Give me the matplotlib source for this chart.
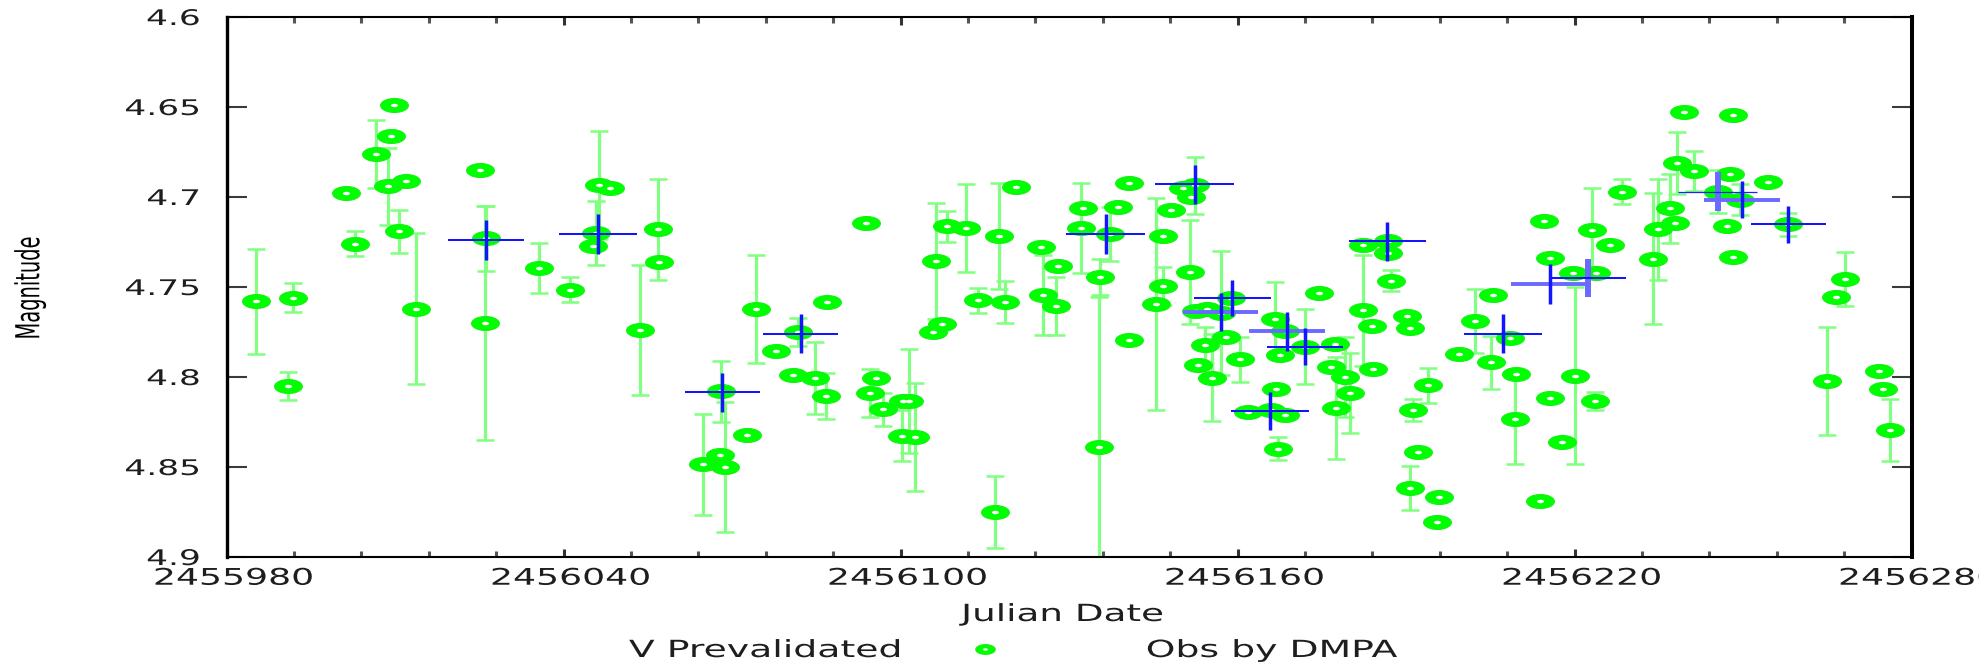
import numpy as np
import matplotlib
matplotlib.use("Agg")
import matplotlib.pyplot as plt
from matplotlib.path import Path
from matplotlib.transforms import Affine2D
from matplotlib.patheffects import AbstractPathEffect
from matplotlib.lines import Line2D
from matplotlib.ticker import MultipleLocator

# ---------------- data ----------------
JD0 = 2455980

# V prevalidated observations (JD offset from JD0, magnitude, error)
obs_day = [5.2, 10.9, 11.8, 21.3, 22.8, 26.7, 28.7, 29.3, 29.8, 30.8, 32.0, 33.8,
           45.1, 46.2, 46.1,
           55.7, 61.1, 65.2, 65.8, 66.4, 68.2, 73.7, 76.8, 77.0, 84.8, 87.8, 88.0,
           88.7, 92.6, 94.3, 97.8, 100.9,
           101.7, 104.7, 106.8, 107.0, 113.8, 114.6, 115.7, 116.9, 120.2, 120.4,
           121.6, 122.5, 125.8, 126.4, 127.3, 128.2, 131.7, 133.8, 136.8, 137.5,
           138.6, 140.6, 145.0, 145.4, 147.6, 148.1,
           152.2, 152.5, 155.4, 155.6, 157.3, 158.7, 160.6, 160.7, 165.5, 166.8,
           166.8, 168.2, 170.3, 171.6, 171.8, 172.4, 172.7, 172.9, 174.2, 174.5,
           175.5, 177.1, 178.0, 178.9, 180.4, 181.9, 186.0, 186.6, 186.9, 187.2,
           187.5, 188.4, 188.4, 192.0, 194.5, 196.6, 197.3, 197.6, 199.1, 200.0,
           202.4, 202.4, 203.9, 204.2, 206.8, 206.8, 207.4, 210.1, 210.7, 210.7,
           211.2, 212.2, 213.9, 215.6, 215.8, 219.5, 222.2, 225.2, 225.5, 228.5,
           229.4, 229.6, 233.8, 234.5, 235.7, 235.7, 237.7, 239.8, 240.1, 243.2,
           243.7, 243.9, 246.3, 248.4,
           254.0, 254.9, 257.0, 257.9, 258.2, 259.5, 261.2, 265.6, 267.1, 267.7,
           268.2, 268.3, 269.4, 274.5, 278.1, 285.0, 286.6, 288.2, 294.3, 295.0,
           296.1]
obs_mag = [4.758, 4.805, 4.756, 4.698, 4.726, 4.676, 4.694, 4.666, 4.649, 4.719, 4.691, 4.762,
           4.685, 4.723, 4.770,
           4.7395, 4.7515, 4.727, 4.720, 4.6936, 4.695, 4.774, 4.718, 4.736, 4.8486, 4.8433, 4.808,
           4.850, 4.832, 4.762, 4.7855, 4.799,
           4.775, 4.8007, 4.8105, 4.7583, 4.7143, 4.809, 4.8003, 4.818, 4.8326, 4.8134,
           4.8134, 4.8333, 4.775, 4.7356, 4.7704, 4.7163, 4.717, 4.7573, 4.875, 4.7216,
           4.7583, 4.6942, 4.728, 4.7544, 4.7606, 4.7386,
           4.717, 4.706, 4.8388, 4.7444, 4.7208, 4.7053, 4.7796, 4.6922, 4.7593, 4.7216,
           4.7493, 4.7073, 4.6952, 4.7415, 4.700, 4.6936, 4.7636, 4.7933, 4.7821, 4.762,
           4.8003, 4.7645, 4.7778, 4.7563, 4.790, 4.8193, 4.8183, 4.7675, 4.8066, 4.8398,
           4.7876, 4.7743, 4.8212, 4.7831, 4.7534, 4.7944, 4.7817, 4.8173, 4.800, 4.8089,
           4.7264, 4.763, 4.7718, 4.7958, 4.7245, 4.731, 4.7464, 4.766, 4.773, 4.8617,
           4.8183, 4.8417, 4.8046, 4.8804, 4.8666, 4.7874, 4.769, 4.7919, 4.7544, 4.7786,
           4.8232, 4.7984, 4.869, 4.7132, 4.7339, 4.8115, 4.8363, 4.742, 4.7993, 4.7182,
           4.8134, 4.742, 4.7264, 4.6971,
           4.7343, 4.718, 4.7063, 4.7147, 4.6811, 4.6526, 4.6854, 4.6971, 4.716, 4.6874,
           4.7333, 4.6545, 4.7014, 4.6917, 4.7151, 4.8023, 4.7557, 4.7456, 4.7964, 4.8066,
           4.8294]
obs_err = [0.029, 0.008, 0.008, 0.0, 0.007, 0.019, 0.0215, 0.0, 0.0, 0.012, 0.0, 0.042,
           0.0, 0.018, 0.065,
           0.014, 0.007, 0.0, 0.018, 0.030, 0.0, 0.036, 0.028, 0.0, 0.028, 0.0, 0.017,
           0.036, 0.0, 0.030, 0.0, 0.0,
           0.0076, 0.020, 0.013, 0.0, 0.0, 0.0135, 0.0, 0.0093, 0.014, 0.0,
           0.029, 0.030, 0.0, 0.032, 0.0, 0.0088, 0.0245, 0.007, 0.020, 0.0295,
           0.0115, 0.0, 0.0, 0.022, 0.016, 0.0,
           0.025, 0.0, 0.083, 0.010, 0.015, 0.0, 0.0, 0.0, 0.059, 0.0,
           0.0105, 0.0, 0.0, 0.029, 0.0, 0.016, 0.0, 0.0, 0.010, 0.0,
           0.024, 0.0345, 0.0, 0.0, 0.0125, 0.0, 0.0, 0.0205, 0.0, 0.0065,
           0.0, 0.0, 0.0, 0.021, 0.0, 0.0, 0.0, 0.0285, 0.022, 0.022,
           0.0, 0.031, 0.0, 0.0, 0.0, 0.0, 0.0056, 0.0, 0.0, 0.0122,
           0.0063, 0.0, 0.0098, 0.0, 0.0, 0.0, 0.0178, 0.0147, 0.0, 0.0,
           0.025, 0.0, 0.0, 0.0, 0.0, 0.0, 0.0, 0.0, 0.0493, 0.023,
           0.0051, 0.0, 0.0, 0.007,
           0.0364, 0.028, 0.019, 0.0, 0.017, 0.0, 0.011, 0.012, 0.0, 0.0,
           0.0, 0.0, 0.0088, 0.0, 0.0064, 0.030, 0.0, 0.015, 0.0, 0.0,
           0.017]

# binned means (blue crosses)
bin_day = [46.2, 66.1, 88.3, 102.2, 156.5, 172.4, 177.0, 179.1, 185.8, 188.8,
           192.0, 206.7, 227.3, 235.6, 242.4, 265.5, 269.8, 278.1]
bin_mag = [4.724, 4.7204, 4.8085, 4.7759, 4.7204, 4.693, 4.764, 4.7563, 4.8187, 4.7747,
           4.7831, 4.7247, 4.7759, 4.7483, 4.745, 4.697, 4.7014, 4.7151]
bin_day_err = [6.8, 6.9, 6.75, 6.7, 7.0, 7.0, 6.7, 6.9, 7.0, 6.7,
               6.7, 6.8, 7.0, 6.85, 6.7, 7.0, 6.8, 6.7]
bin_mag_err = [0.011, 0.011, 0.011, 0.011, 0.011, 0.0107, 0.0106, 0.010, 0.0105, 0.0107,
               0.0105, 0.011, 0.011, 0.0112, 0.0106, 0.011, 0.0103, 0.0103]

x_ticks = [2455980, 2456040, 2456100, 2456160, 2456220, 2456280]
x_tick_labels = ["2455980", "2456040", "2456100", "2456160", "2456220", "2456280"]
y_ticks = [4.6, 4.65, 4.7, 4.75, 4.8, 4.85, 4.9]
y_tick_labels = ["4.6", "4.65", "4.7", "4.75", "4.8", "4.85", "4.9"]

# rendering style of each cross (d = dark, l = light/thick, t = thin)
cross_h_style = ["d", "d", "d", "d", "d", "d", "l", "d", "d", "l",
                 "d", "d", "d", "l", "d", "t", "l", "d"]
cross_v_style = ["d", "d", "d", "d", "d", "d", "d", "d", "d", "d",
                 "d", "d", "d", "d", "l", "l", "d", "d"]


# ---------------- helpers ----------------
class HStretch(AbstractPathEffect):
    """Stretch rendered text horizontally (the reference image is widened)."""
    def __init__(self, k=1.58, anchor=0.5, dx=0.0):
        super().__init__((0, 0))
        self.k, self.anchor, self.dx = k, anchor, dx

    def draw_path(self, renderer, gc, tpath, affine, rgbFace=None):
        if len(tpath.vertices) == 0:
            return
        ext = tpath.get_extents(affine)
        ax_ = ext.x0 + self.anchor * (ext.x1 - ext.x0)
        aff = affine + Affine2D().translate(-ax_, 0).scale(self.k, 1).translate(ax_ + self.dx, 0)
        renderer.draw_path(gc, tpath, aff, rgbFace)


t = np.linspace(0, 2 * np.pi, 61)
ELL = Path(np.column_stack([np.cos(t), 0.5 * np.sin(t)]), closed=True)

TXT = "#1e1e1e"
W, H = 1979, 666
fig = plt.figure(figsize=(W / 100, H / 100), dpi=100)
ax = fig.add_axes([226.5 / W, (H - 557) / H, 1685 / W, 540 / H])

od = JD0 + np.array(obs_day)
om = np.array(obs_mag)
oe = np.array(obs_err)
m = oe > 0
ax.errorbar(od[m], om[m], yerr=oe[m], fmt="none", ecolor="#80ff80",
            elinewidth=2.3, capsize=6.2, capthick=1.8, zorder=2)
ax.plot(od, om, ls="none", marker=ELL, ms=20, mfc="#00ff00", mec="#14f014",
        mew=0.8, zorder=3)
ax.plot(od, om, ls="none", marker=ELL, ms=5.0, mfc="white", mec="none", zorder=4)

bd = JD0 + np.array(bin_day)
bm = np.array(bin_mag)
bde = np.array(bin_day_err)
bme = np.array(bin_mag_err)
hcol = {"d": "#1414ff", "l": "#6a6aff", "t": "#2020ff"}
hw = {"d": 1.45, "l": 2.8, "t": 0.9}
vw = {"d": 2.5, "l": 4.3, "t": 1.0}
for order in ("l", "t", "d"):
    hi = [i for i, s in enumerate(cross_h_style) if s == order]
    vi = [i for i, s in enumerate(cross_v_style) if s == order]
    if hi:
        ax.hlines(bm[hi], bd[hi] - bde[hi], bd[hi] + bde[hi], colors=hcol[order],
                  linewidths=hw[order], zorder=5 if order != "d" else 6)
    if vi:
        ax.vlines(bd[vi], bm[vi] - bme[vi], bm[vi] + bme[vi], colors=hcol[order],
                  linewidths=vw[order], zorder=5 if order != "d" else 6)

ax.set_xlim(2455980, 2456280)
ax.set_ylim(4.9, 4.6)
ax.set_xticks(x_ticks, labels=x_tick_labels)
ax.set_yticks(y_ticks, labels=y_tick_labels)
ax.xaxis.set_minor_locator(MultipleLocator(12))

ax.tick_params(axis="y", which="major", direction="in", length=14.5, width=1.5,
               color="#3a3a3a", left=True, right=True, labelsize=15.5, pad=19,
               labelcolor=TXT)
ax.tick_params(axis="x", which="major", direction="in", length=6, width=2.2,
               color="#333333", top=True, bottom=True, labelsize=16.5, pad=7,
               labelcolor=TXT)
ax.tick_params(axis="x", which="minor", direction="in", length=4, width=2.2,
               color="#555555", top=True, bottom=True)

for side, lw in (("left", 2.4), ("right", 2.9), ("top", 1.5), ("bottom", 1.5)):
    ax.spines[side].set_linewidth(lw)
    ax.spines[side].set_color("black")

for tk in ax.xaxis.get_major_ticks(len(x_ticks)):
    tk.label1.set_path_effects([HStretch(1.58, 0.5, dx=7)])
for tk in ax.yaxis.get_major_ticks(len(y_ticks)):
    tk.label1.set_path_effects([HStretch(1.6, 1.0)])

# axis titles and legend
fig.text(30 / W, (H - 288) / H, "Magnitude", rotation=90, ha="center", va="center",
         fontsize=14, color="black", path_effects=[HStretch(1.7, 0.5)])
fig.text(1062 / W, (H - 621) / H, "Julian Date", ha="center", va="baseline",
         fontsize=17, color=TXT, path_effects=[HStretch(1.58, 0.5)])
fig.text(629 / W, (H - 657) / H, "V Prevalidated", ha="left", va="baseline",
         fontsize=17, color=TXT, path_effects=[HStretch(1.6, 0.0)])
fig.text(1146.5 / W, (H - 657) / H, "Obs by DMPA", ha="left", va="baseline",
         fontsize=17, color=TXT, path_effects=[HStretch(1.6, 0.0)])
fig.add_artist(Line2D([985 / W], [(H - 649) / H], transform=fig.transFigure,
                      ls="none", marker=ELL, ms=14, mfc="#00ff00", mec="#14f014", mew=0.8))
fig.add_artist(Line2D([985 / W], [(H - 649) / H], transform=fig.transFigure,
                      ls="none", marker=ELL, ms=3.5, mfc="white", mec="none"))

fig.savefig("out.png", dpi=100, facecolor="white")
